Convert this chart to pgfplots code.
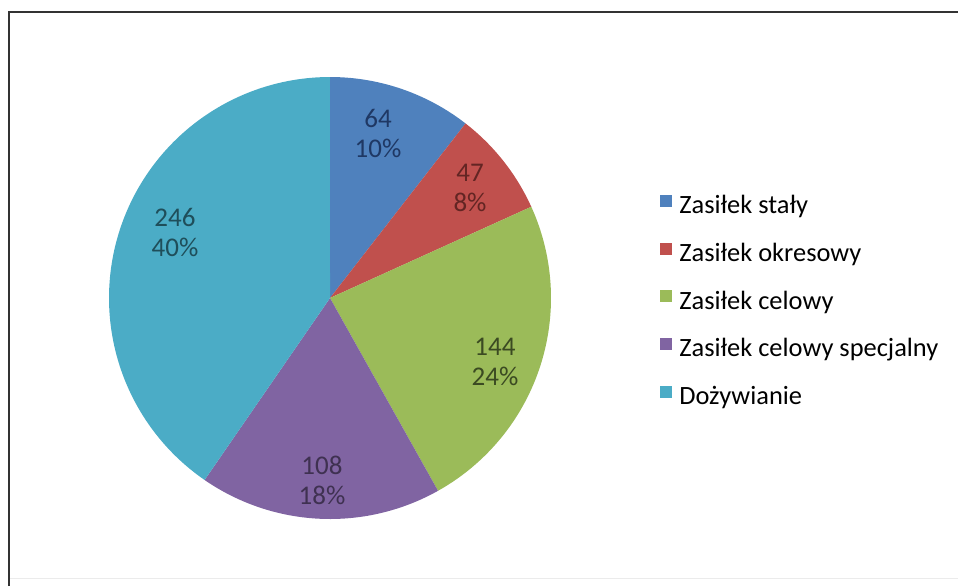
\documentclass[border=0pt]{standalone}
\usepackage{pgfplots}
\pgfplotsset{compat=1.18}
\usepackage{fontspec}
\setmainfont{Carlito}
\definecolor{cA}{HTML}{4F81BD}
\definecolor{cB}{HTML}{C0504D}
\definecolor{cC}{HTML}{9BBB59}
\definecolor{cD}{HTML}{8064A2}
\definecolor{cE}{HTML}{4BACC6}
\definecolor{tA}{HTML}{1F3864}
\definecolor{tB}{HTML}{632523}
\definecolor{tC}{HTML}{3B4A22}
\definecolor{tD}{HTML}{3F3151}
\definecolor{tE}{HTML}{1F4E5A}
% values
\def\vA{64}\def\vB{47}\def\vC{144}\def\vD{108}\def\vE{246}
\pgfmathsetmacro{\tot}{\vA+\vB+\vC+\vD+\vE}
\pgfmathsetmacro{\aA}{90}
\pgfmathsetmacro{\aB}{\aA-360*(\vA/\tot)}
\pgfmathsetmacro{\aC}{\aB-360*(\vB/\tot)}
\pgfmathsetmacro{\aD}{\aC-360*(\vC/\tot)}
\pgfmathsetmacro{\aE}{\aD-360*(\vD/\tot)}
\pgfmathsetmacro{\aF}{\aE-360*(\vE/\tot)}
\def\cx{330}\def\cy{288}\def\R{221}
\begin{document}
\begin{tikzpicture}
\begin{axis}[
  width=479pt, height=293pt, scale only axis,
  xmin=0, xmax=958, ymin=0, ymax=586,
  hide axis, clip=false,
  font=\fontsize{13.5}{15}\selectfont,
  legend cell align=left,
  legend style={draw=none, fill=none, at={(660/958,393/586)}, anchor=north west,
    row sep=11.2pt, font=\fontsize{13.2}{15}\selectfont, inner sep=0pt,
    nodes={inner sep=1pt}},
  legend image code/.code={\fill[#1] (0pt,-0.4pt) rectangle (6pt,5.6pt); \path (8.5pt,0pt);},
]
\addplot[fill=cA, draw=none, domain=\aB:\aA, samples=60, variable=\t]
  ({\cx+\R*cos(\t)},{\cy+\R*sin(\t)}) -- (axis cs:\cx,\cy) -- cycle;
\addlegendentry{Zasiłek stały}
\addplot[fill=cB, draw=none, domain=\aC:\aB, samples=60, variable=\t]
  ({\cx+\R*cos(\t)},{\cy+\R*sin(\t)}) -- (axis cs:\cx,\cy) -- cycle;
\addlegendentry{Zasiłek okresowy}
\addplot[fill=cC, draw=none, domain=\aD:\aC, samples=80, variable=\t]
  ({\cx+\R*cos(\t)},{\cy+\R*sin(\t)}) -- (axis cs:\cx,\cy) -- cycle;
\addlegendentry{Zasiłek celowy}
\addplot[fill=cD, draw=none, domain=\aE:\aD, samples=80, variable=\t]
  ({\cx+\R*cos(\t)},{\cy+\R*sin(\t)}) -- (axis cs:\cx,\cy) -- cycle;
\addlegendentry{Zasiłek celowy specjalny}
\addplot[fill=cE, draw=none, domain=\aF:\aE, samples=120, variable=\t]
  ({\cx+\R*cos(\t)},{\cy+\R*sin(\t)}) -- (axis cs:\cx,\cy) -- cycle;
\addlegendentry{Dożywianie}
\node[align=center, text=tA, font=\fontsize{13.5}{15}\selectfont] at (axis cs:378,453) {64\\10\%};
\node[align=center, text=tB, font=\fontsize{13.5}{15}\selectfont] at (axis cs:470,398) {47\\8\%};
\node[align=center, text=tC, font=\fontsize{13.5}{15}\selectfont] at (axis cs:495,224) {144\\24\%};
\node[align=center, text=tD, font=\fontsize{13.5}{15}\selectfont] at (axis cs:322,106) {108\\18\%};
\node[align=center, text=tE, font=\fontsize{13.5}{15}\selectfont] at (axis cs:175,354) {246\\40\%};
\draw[black!80, line width=1.2pt] (axis cs:9,0) -- (axis cs:9,574) -- (axis cs:958,574);
\draw[black!8, line width=0.5pt] (axis cs:10,8) -- (axis cs:958,8);
\end{axis}
\pgfresetboundingbox
\path[use as bounding box] (current axis.south west) rectangle (current axis.north east);
\end{tikzpicture}
\end{document}
